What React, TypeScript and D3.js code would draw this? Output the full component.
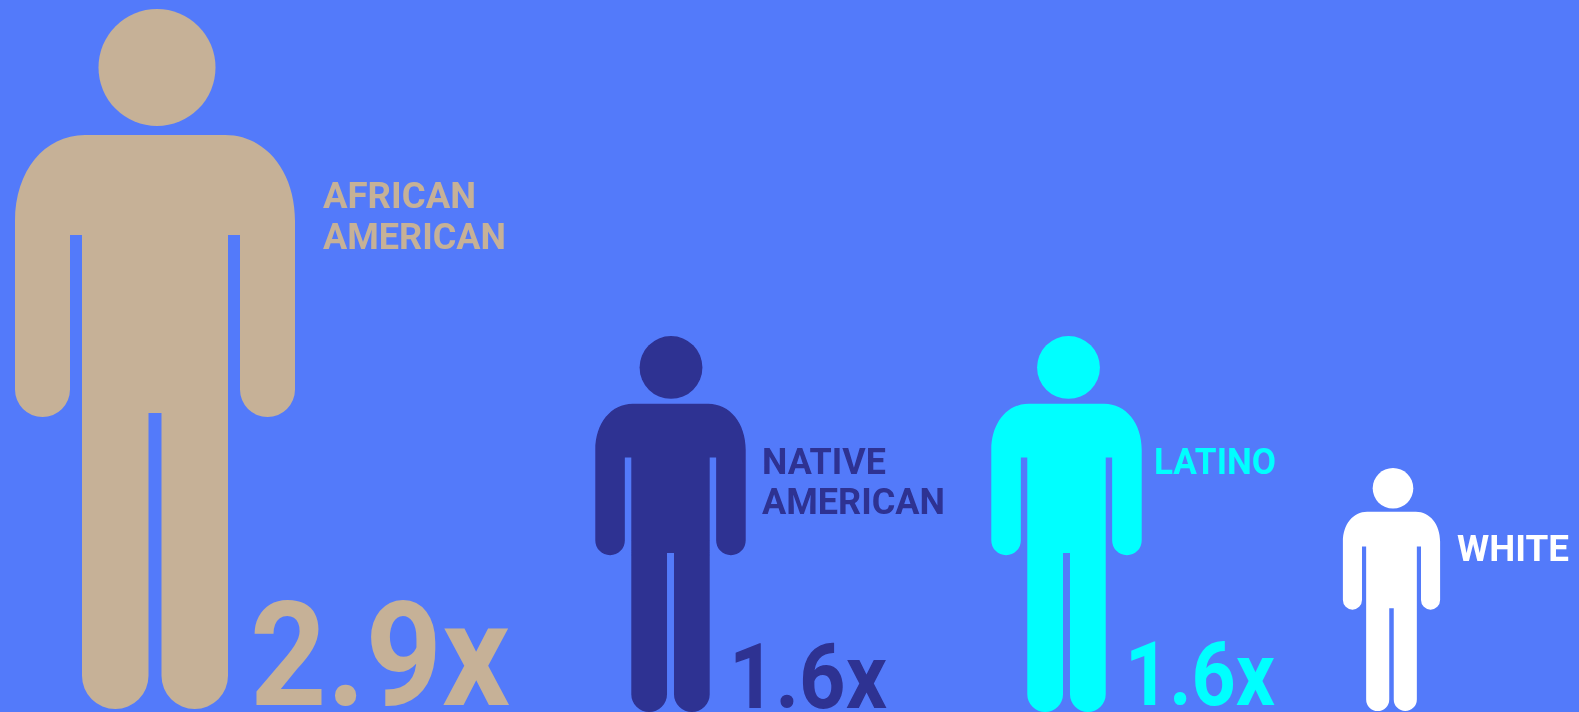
import React from 'react';
import * as d3 from 'd3';

const width = 1579;
const height = 712;

// data
const groups = ['African American', 'Native American', 'Latino', 'White'];
const multipliers = [2.9, 1.6, 1.6, 1];
const multiplierLabels = ['2.9x', '1.6x', '1.6x', ''];
const labelLines = [['AFRICAN', 'AMERICAN'], ['NATIVE', 'AMERICAN'], ['LATINO'], ['WHITE']];

// layout and look, measured per figure
const colors = ['#C6B197', '#2D3192', '#00FFFF', '#FFFFFF'];
const centers = [155, 670.5, 1066.5, 1391.5];
const headShift = [2, 0.5, 2, 1.5];
const bottoms = [709, 712, 712, 711];
const labelX = [323, 762, 1154, 1457];
const labelBaseline = [208, 474, 474, 561];
const lineGap = [41, 40, 0, 0];
const labelWidths = [[153, 183], [124, 183], [122], [112]];
const bigX = [250, 729, 1125, 0];
const bigBaseline = [705, 708, 705, 0];
const bigWidth = [260, 158, 150, 0];
const bigSize = [145, 91, 89, 0];

// the picture's scale is not quite linear, so it is calibrated on each value
const heightScale = d3.scaleLinear().domain([1, 1.6, 2.9]).range([243, 376, 700]);

// person drawn in the 700 unit tall model of the biggest figure
const model = {
  headR: 58.5,
  shoulderY: 126,
  halfW: 140,
  shoulderRx: 70,
  shoulderRy: 86,
  armInner: 85,
  armpitY: 226,
  armEnd: 408,
  torso: 73,
  crotchY: 404,
  gap: 6.5,
  foot: 700,
};

function bodyPath(cx: number, top: number, k: number) {
  const m = model;
  const p = d3.path();
  const X = (v: number) => cx + v * k;
  const Y = (v: number) => top + v * k;
  const c = 0.58; // a bit rounder than a plain ellipse
  const armR = (m.halfW - m.armInner) / 2;
  const legR = (m.torso - m.gap) / 2;
  const sx = m.halfW - m.shoulderRx;

  p.moveTo(X(-sx), Y(m.shoulderY));
  p.lineTo(X(sx), Y(m.shoulderY));
  p.bezierCurveTo(
    X(sx + m.shoulderRx * c), Y(m.shoulderY),
    X(m.halfW), Y(m.shoulderY + m.shoulderRy * (1 - c)),
    X(m.halfW), Y(m.shoulderY + m.shoulderRy)
  );
  p.lineTo(X(m.halfW), Y(m.armEnd - armR));
  p.arc(X(m.halfW - armR), Y(m.armEnd - armR), armR * k, 0, Math.PI);
  p.lineTo(X(m.armInner), Y(m.armpitY));
  p.lineTo(X(m.torso), Y(m.armpitY));
  p.lineTo(X(m.torso), Y(m.foot - legR));
  p.arc(X(m.torso - legR), Y(m.foot - legR), legR * k, 0, Math.PI);
  p.lineTo(X(m.gap), Y(m.crotchY));
  p.lineTo(X(-m.gap), Y(m.crotchY));
  p.lineTo(X(-m.gap), Y(m.foot - legR));
  p.arc(X(-m.torso + legR), Y(m.foot - legR), legR * k, 0, Math.PI);
  p.lineTo(X(-m.torso), Y(m.armpitY));
  p.lineTo(X(-m.armInner), Y(m.armpitY));
  p.lineTo(X(-m.armInner), Y(m.armEnd - armR));
  p.arc(X(-m.halfW + armR), Y(m.armEnd - armR), armR * k, 0, Math.PI);
  p.lineTo(X(-m.halfW), Y(m.shoulderY + m.shoulderRy));
  p.bezierCurveTo(
    X(-m.halfW), Y(m.shoulderY + m.shoulderRy * (1 - c)),
    X(-sx - m.shoulderRx * c), Y(m.shoulderY),
    X(-sx), Y(m.shoulderY)
  );
  p.closePath();
  return p.toString();
}

export default function App() {
  return (
    <svg
      width={width}
      height={height}
      style={{ position: 'absolute', left: 0, top: 0, display: 'block' }}
      fontFamily="Roboto, sans-serif"
    >
      <defs>
        <filter id="soft" x="-5%" y="-5%" width="110%" height="110%">
          <feGaussianBlur stdDeviation="0.6" />
        </filter>
      </defs>
      <rect width={width} height={height} fill="#537AFA" />
      <g filter="url(#soft)">
        {groups.map((g, i) => {
          const figureH = heightScale(multipliers[i]);
          const k = figureH / model.foot;
          const top = bottoms[i] - figureH;
          return (
            <g key={g} fill={colors[i]}>
              <circle cx={centers[i] + headShift[i]} cy={top + model.headR * k} r={model.headR * k} />
              <path d={bodyPath(centers[i], top, k)} />
              {labelLines[i].map((line, j) => (
                <text
                  key={line}
                  x={labelX[i]}
                  y={labelBaseline[i] + j * lineGap[i]}
                  fontSize={37}
                  fontWeight={700}
                  textLength={labelWidths[i][j]}
                  lengthAdjust="spacingAndGlyphs"
                >
                  {line}
                </text>
              ))}
              {multiplierLabels[i] && (
                <text
                  x={bigX[i]}
                  y={bigBaseline[i]}
                  fontSize={bigSize[i]}
                  fontWeight={700}
                  textLength={bigWidth[i]}
                  lengthAdjust="spacingAndGlyphs"
                >
                  {multiplierLabels[i]}
                </text>
              )}
            </g>
          );
        })}
      </g>
    </svg>
  );
}
